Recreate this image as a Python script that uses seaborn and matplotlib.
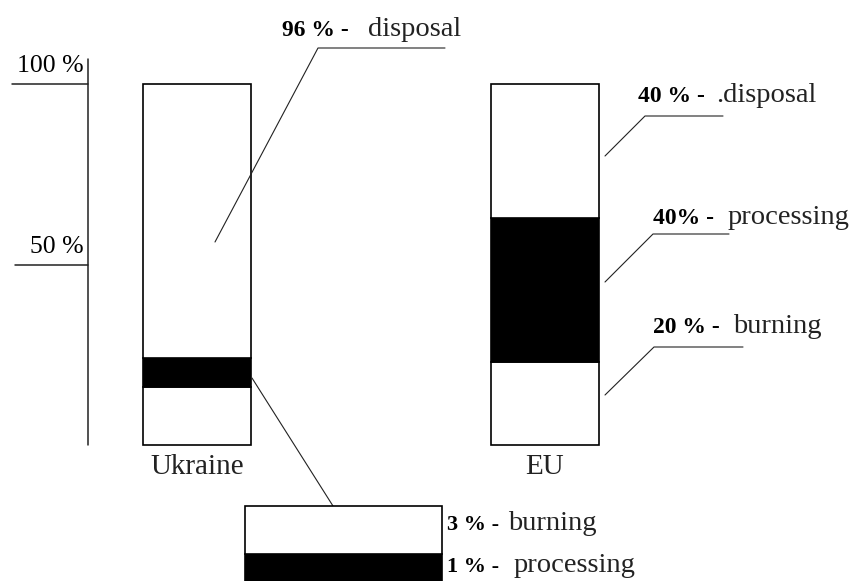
import matplotlib
matplotlib.use("Agg")
import matplotlib.pyplot as plt
import matplotlib.transforms as mtransforms
import seaborn as sns

W, H = 854, 581

# categories and stacked segments (bottom to top)
countries = ["Ukraine", "EU"]
segment_names = ["burning", "processing", "disposal"]
segment_colors = ["white", "black", "white"]

# shares written on the chart
ukraine_shares = [3, 1, 96]
eu_shares = [20, 40, 40]

# segment heights as drawn (the Ukraine bar is schematic, % of bar height)
ukraine_drawn = [16, 8, 76]
eu_drawn = [23, 40, 37]

# zoomed detail of the bottom of the Ukraine bar (bottom to top)
inset_names = ["processing", "burning"]
inset_colors = ["black", "white"]
inset_drawn = [1.7, 3]

ruler_ticks = [100, 50]
ruler_labels = ["100 %", "50 %"]

ukraine_label = ("96 % -", "disposal")
eu_labels = [("20 % -", "burning"), ("40% -", "processing"), ("40 % -", ".disposal")]
inset_labels = [("1 % -", "processing"), ("3 % -", "burning")]

sns.set_theme(style="white")
plt.rcParams["font.family"] = ["Liberation Serif", "DejaVu Serif"]

fig = plt.figure(figsize=(W / 100, H / 100), dpi=100)
fig.patch.set_facecolor("white")
ax = fig.add_axes([0, 0, 1, 1])

INK = "#222222"


def fx(px):
    return px / W


def fy(py):
    return 1 - py / H


def leader(points, lw=0.8):
    xs = [fx(p[0]) for p in points]
    ys = [fy(p[1]) for p in points]
    ax.plot(xs, ys, color=INK, lw=lw, transform=fig.transFigure, clip_on=False)


def label(x_num, x_word, base, num, word, num_size=17, word_size=20.5):
    fig.text(fx(x_num), fy(base), num, fontsize=num_size, fontweight="bold",
             color="black", va="baseline", ha="left")
    fig.text(fx(x_word), fy(base), word, fontsize=word_size,
             color=INK, va="baseline", ha="left")


def draw_stack(target, country, heights, colors, order, width):
    bottom = 0
    for h, c in zip(heights, colors):
        sns.barplot(x=[country], y=[h], order=order, bottom=bottom, color=c,
                    saturation=1, edgecolor="black", linewidth=1.2,
                    width=width, errorbar=None, ax=target)
        bottom += h


# main bars
draw_stack(ax, "Ukraine", ukraine_drawn, segment_colors, countries, 0.31)
draw_stack(ax, "EU", eu_drawn, segment_colors, countries, 0.31)

# x: 1 category unit = 348 px, Ukraine centred at 197 px
# y: 100 % = 361 px, bar base at 445 px
ax.set_xlim(-197 / 348, (W - 197) / 348)
ax.set_ylim(-(H - 445) / 3.61, 445 / 3.61)
ax.axis("off")

# ruler on the left
trans = mtransforms.blended_transform_factory(fig.transFigure, ax.transData)
ax.plot([fx(88), fx(88)], [0, 107], color=INK, lw=1.1, transform=trans)
for t, lab, x0 in zip(ruler_ticks, ruler_labels, [12, 15]):
    ax.plot([fx(x0), fx(88)], [t, t], color=INK, lw=1.1, transform=trans)
    ax.annotate(lab, xy=(fx(84), t), xycoords=trans, xytext=(0, 5),
                textcoords="offset points", ha="right", va="bottom",
                fontsize=18.5, color="black")

# category names under the bars
for i, c in enumerate(countries):
    ax.text(i, -8.0, c, ha="center", va="baseline", fontsize=21, color=INK)

# Ukraine labels
label(282, 368, 36, *ukraine_label)
leader([(445, 48), (318, 48), (215, 242)])

# EU labels
eu_pos = [(653, 733, 333), (653, 728, 224), (638, 716, 102)]
eu_leaders = [
    [(743, 347), (654, 347), (605, 395)],
    [(729, 234), (653, 234), (605, 282)],
    [(723, 116), (645, 116), (605, 156)],
]
for (xn, xw, b), (num, word), pts in zip(eu_pos, eu_labels, eu_leaders):
    label(xn, xw, b, num, word)
    leader(pts)

# link from the Ukraine black band to the zoomed detail
leader([(252, 378), (333, 506)])

# zoomed detail
inset = fig.add_axes([fx(243), 0, 201 / W, 77 / H])
draw_stack(inset, "Ukraine", inset_drawn, inset_colors, ["Ukraine"], 0.8)
inset.set_xlim(-0.4085, 0.4085)
inset.set_ylim(0, 4.825)
inset.axis("off")

inset_pos = [(447, 514, 572), (447, 508, 530)]
for (xn, xw, b), (num, word) in zip(inset_pos, inset_labels):
    label(xn, xw, b, num, word, num_size=16)

fig.savefig("out.png", dpi=100)
